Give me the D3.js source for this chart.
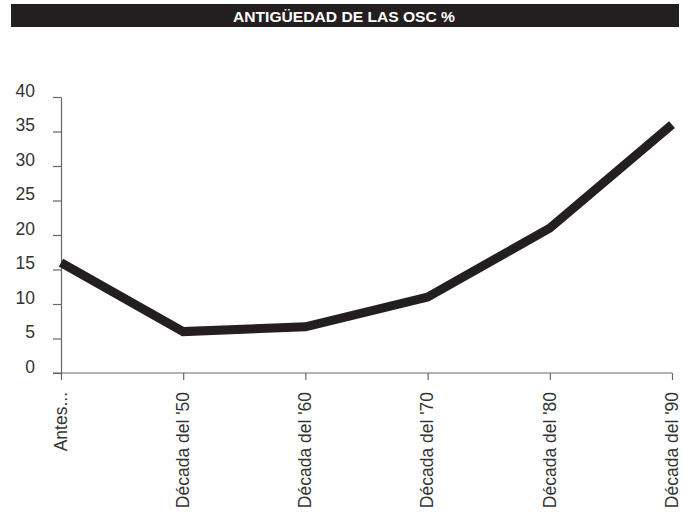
<!DOCTYPE html>
<html>
<head>
<meta charset="utf-8">
<script src="https://cdn.jsdelivr.net/npm/d3@7"></script>
<style>
  body { margin: 0; background: #fff; }
  svg { display: block; }
</style>
</head>
<body>
<div id="chart"></div>
<script>
// datos
let titulo = "ANTIGÜEDAD DE LAS OSC %";
let categorias = ["Antes...", "Década del '50", "Década del '60", "Década del '70", "Década del '80", "Década del '90"];
let valores = [16, 6, 6.7, 11, 21, 36];
let yTicks = [0, 5, 10, 15, 20, 25, 30, 35, 40];

let width = 693;
let height = 517;

let svg = d3.select("#chart").append("svg")
    .attr("width", width)
    .attr("height", height);

// barra del titulo
svg.append("rect")
    .attr("x", 11)
    .attr("y", 4)
    .attr("width", 668)
    .attr("height", 23)
    .style("fill", "#231f20");

svg.append("text")
    .attr("x", 344)
    .attr("y", 21.5)
    .attr("text-anchor", "middle")
    .attr("textLength", 222)
    .attr("lengthAdjust", "spacingAndGlyphs")
    .style("font-family", "'Liberation Sans', Arial, sans-serif")
    .style("font-weight", "bold")
    .style("font-size", "15px")
    .style("fill", "#fff")
    .text(titulo);

let x = d3.scalePoint()
    .domain(categorias)
    .range([61, 672]);

let y = d3.scaleLinear()
    .domain([0, 40])
    .range([373, 97]);

let axisColor = "#666";
let textColor = "#333";

// eje y
let gy = svg.append("g")
    .attr("transform", "translate(" + 61 + ",0)")
    .call(d3.axisLeft(y).tickValues(yTicks).tickSize(8).tickSizeOuter(0).tickPadding(18));
gy.selectAll("line, path").style("stroke", axisColor).style("stroke-width", 1.2);
gy.selectAll("text")
    .style("font-family", "'Liberation Sans', Arial, sans-serif")
    .style("font-size", "17.5px")
    .style("fill", textColor)
    .attr("dy", "-0.05em");

// eje x
let gx = svg.append("g")
    .attr("transform", "translate(0," + 373 + ")")
    .call(d3.axisBottom(x).tickSize(7).tickSizeOuter(0));
gx.select(".domain")
    .attr("d", "M" + (x(categorias[0]) - 8) + ",0H" + x(categorias[categorias.length - 1]));
gx.selectAll("line, path").style("stroke", axisColor).style("stroke-width", 1.2);
gx.selectAll("text")
    .style("font-family", "'Liberation Sans', Arial, sans-serif")
    .style("font-size", "17.5px")
    .style("fill", textColor)
    .attr("text-anchor", "end")
    .attr("transform", "rotate(-90)")
    .attr("x", -19)
    .attr("y", 0)
    .attr("dy", "0.3em");

// linea
let line = d3.line()
    .x(function(d, i) { return x(categorias[i]); })
    .y(function(d) { return y(d); });

svg.append("path")
    .datum(valores)
    .attr("d", line)
    .style("fill", "none")
    .style("stroke", "#231f20")
    .style("stroke-width", 9)
    .style("stroke-linejoin", "miter")
    .style("stroke-linecap", "butt");
</script>
</body>
</html>
